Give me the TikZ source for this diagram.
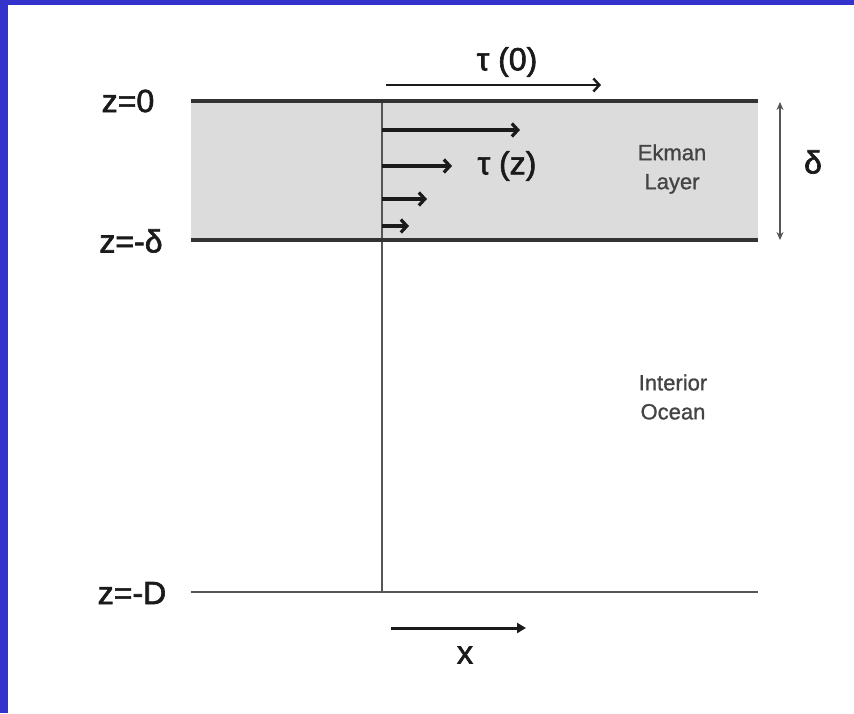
\documentclass[tikz,border=0pt]{standalone}
\usepackage{fontspec}
\setmainfont{Liberation Sans}
\newfontfamily\labfont[FakeBold=2]{Liberation Sans}
\newfontfamily\smfont[FakeBold=1]{Liberation Sans}
\usetikzlibrary{arrows.meta}
\definecolor{frameblue}{HTML}{3333CC}
\definecolor{layergray}{HTML}{DCDCDC}
\definecolor{linedark}{HTML}{333333}
\definecolor{linemid}{HTML}{555555}
\definecolor{txtdark}{HTML}{1A1A1A}
\definecolor{txtgray}{HTML}{444444}
\begin{document}
\begin{tikzpicture}[x=1pt,y=-1pt,
  biglabel/.style={text=txtdark,font=\labfont\fontsize{32}{34}\selectfont,inner sep=0pt},
  smalllabel/.style={text=txtgray,font=\smfont\fontsize{22}{32}\selectfont,align=center,inner sep=0pt},
  layerline/.style={draw=linedark,line width=4pt},
  thinline/.style={draw=linemid,line width=2.6pt},
  vecarrow/.style={draw=txtdark,line width=3.2pt,-{Straight Barb[length=6pt,width=13pt]}},
  xarrow/.style={draw=txtdark,line width=3pt,-{Triangle[length=9pt,width=10pt]}},
  dimarrow/.style={draw=linemid,line width=1.5pt,{Stealth[length=8pt,width=7pt]}-{Stealth[length=8pt,width=7pt]}}]
\fill[frameblue] (0,0) rectangle (854,713);
\fill[white] (8,4.5) rectangle (854,713);
\useasboundingbox (0,0) rectangle (854,713);
% layer
\fill[layergray] (191,101) rectangle (758,240);
\coordinate (t0l) at (191,101); \coordinate (t0r) at (758,101);
\coordinate (tdl) at (191,240); \coordinate (tdr) at (758,240);
\coordinate (tDl) at (191,592); \coordinate (tDr) at (758,592);
\coordinate (vtop) at (382,101); \coordinate (vbot) at (382,592);
\draw[thinline] (vtop) -- (vbot);
\draw[layerline] (t0l) -- (t0r);
\draw[layerline] (tdl) -- (tdr);
\draw[thinline] (tDl) -- (tDr);
% labels left
\node[biglabel] (lz0) at (128,101) {z=0};
\node[biglabel] (lzd) at (131,241) {z=-δ};
\node[biglabel] (lzD) at (132,593) {z=-D};
% tau(0)
\coordinate (a0s) at (386,85); \coordinate (a0e) at (601,85);
\draw[vecarrow,line width=2.4pt] (a0s) -- (a0e);
\node[biglabel] (tau0) at (507,62) {τ (0)};
% profile arrows
\coordinate (p1s) at (382,130); \coordinate (p1e) at (520,130);
\coordinate (p2s) at (382,166); \coordinate (p2e) at (452,166);
\coordinate (p3s) at (382,199); \coordinate (p3e) at (427,199);
\coordinate (p4s) at (382,226); \coordinate (p4e) at (409,226);
\draw[vecarrow] (p1s) -- (p1e);
\draw[vecarrow] (p2s) -- (p2e);
\draw[vecarrow] (p3s) -- (p3e);
\draw[vecarrow] (p4s) -- (p4e);
\node[biglabel] (tauz) at (507,166) {τ (z)};
% Ekman
\node[smalllabel] (ek) at (672,169) {Ekman\\[-3pt]Layer};
\node[smalllabel] (io) at (673,397) {Interior\\[-3pt]Ocean};
% delta
\coordinate (dt) at (780,102); \coordinate (db) at (780,240);
\draw[dimarrow] (dt) -- (db);
\node[biglabel] (dl) at (813,162) {δ};
% x arrow
\coordinate (xs) at (391,628); \coordinate (xe) at (526,628);
\draw[xarrow] (xs) -- (xe);
\node[biglabel] (xl) at (465,655) {x};
\end{tikzpicture}
\end{document}
